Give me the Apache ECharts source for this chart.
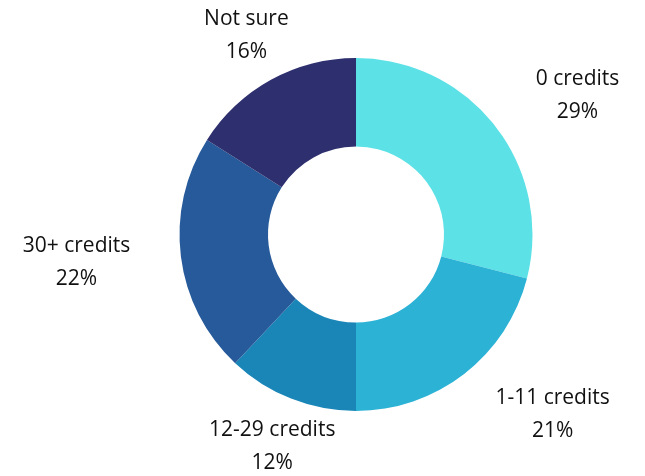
<!DOCTYPE html>
<html>
<head>
<meta charset="utf-8">
<script src="https://cdn.jsdelivr.net/npm/echarts@6/dist/echarts.min.js"></script>
<style>
html,body{margin:0;padding:0;background:#fff;}
#chart{width:645px;height:476px;}
</style>
</head>
<body>
<div id="chart"></div>
<script>
var categories = ['0 credits', '1-11 credits', '12-29 credits', '30+ credits', 'Not sure'];
var values = [29, 21, 12, 22, 16];
var colors = ['#5CE1E6', '#2CB2D5', '#1A86B8', '#265A9A', '#2E2F6E'];

var chart = echarts.init(document.getElementById('chart'), null, {renderer: 'canvas'});
var data = categories.map(function (c, i) {
  return {name: c, value: values[i], itemStyle: {color: colors[i]}};
});

chart.setOption({
  backgroundColor: '#ffffff',
  animation: false,
  series: [{
    type: 'pie',
    center: [356, 234.5],
    radius: [88, 176.5],
    startAngle: 90,
    clockwise: true,
    avoidLabelOverlap: false,
    data: data,
    itemStyle: {borderWidth: 0},
    label: {
      show: true,
      position: 'outside',
      formatter: '{b}\n{c}%',
      fontFamily: 'Open Sans',
      fontSize: 21,
      lineHeight: 33,
      color: '#111111',
      distanceToLabelLine: 0
    },
    labelLine: {
      show: true,
      length: 51,
      length2: 0,
      lineStyle: {color: 'rgba(0,0,0,0)', width: 0}
    },
    labelLayout: function (p) {
      var pts = p.labelLinePoints;
      if (!pts || pts.length < 2) return {};
      var ax = pts[pts.length - 1][0], ay = pts[pts.length - 1][1];
      var dx = pts[1][0] - pts[0][0], dy = pts[1][1] - pts[0][1];
      var len = Math.sqrt(dx * dx + dy * dy) || 1;
      var nx = dx / len;
      var w = p.labelRect ? p.labelRect.width : 0;
      var x = ax;
      if (nx > 0.55) x = ax + w / 2;
      else if (nx < -0.55) x = ax - w / 2;
      return {x: x, y: ay, align: 'center', verticalAlign: 'middle'};
    }
  }]
});
</script>
</body>
</html>
